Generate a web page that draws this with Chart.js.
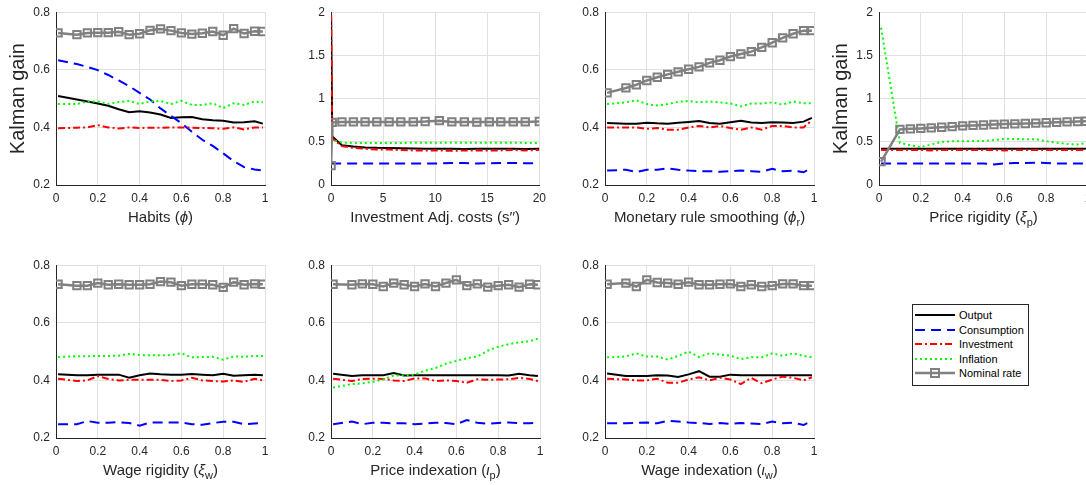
<!DOCTYPE html>
<html>
<head>
<meta charset="utf-8">
<title>Kalman gain sensitivity</title>
<script src="https://cdn.jsdelivr.net/npm/chart.js@4.4.1/dist/chart.umd.min.js"></script>
<style>
  html, body { margin: 0; padding: 0; background: #fff; overflow: hidden; }
  body { width: 1086px; height: 485px; position: relative; }
  canvas.panel { position: absolute; }
  #legend {
    position: absolute; left: 912px; top: 304px; width: 115px; height: 80px;
    border: 1px solid #262626; background: #fff;
    font: 11px "Liberation Sans", Arial, sans-serif; color: #000;
  }
  .lg-row { position: absolute; left: 1px; height: 14px; display: flex; align-items: center; }
  .lg-row svg { display: block; margin-right: 3px; }
</style>
</head>
<body>
<div id="legend"></div>
<script>
// ── Data ──────────────────────────────────────────────────────────────────────

// parameter grid used by the unit-interval panels
const gridX = [0.01, 0.1, 0.15, 0.2, 0.25, 0.3, 0.35, 0.4, 0.45, 0.5,
               0.55, 0.6, 0.65, 0.7, 0.75, 0.8, 0.85, 0.9, 0.95, 0.99];
// grid for investment adjustment costs
const gridS = [0.01, 0.12, 1.05, 2.15, 3.27, 4.4, 5.58, 6.7, 7.9, 9.04,
               10.4, 11.6, 12.8, 14.0, 15.2, 16.3, 17.5, 18.65, 20];

const habitsOutput = [0.509, 0.497, 0.490, 0.483, 0.475, 0.463, 0.453, 0.456, 0.452, 0.445, 0.433, 0.435, 0.436, 0.428, 0.425, 0.423, 0.417, 0.418, 0.421, 0.413];
const habitsCons   = [0.633, 0.620, 0.610, 0.599, 0.582, 0.563, 0.543, 0.520, 0.497, 0.466, 0.440, 0.415, 0.385, 0.357, 0.336, 0.310, 0.283, 0.262, 0.254, 0.250];
const habitsInv    = [0.397, 0.399, 0.400, 0.408, 0.400, 0.396, 0.400, 0.398, 0.399, 0.399, 0.400, 0.400, 0.399, 0.398, 0.397, 0.395, 0.400, 0.393, 0.400, 0.400];
const habitsInfl   = [0.481, 0.481, 0.490, 0.490, 0.481, 0.488, 0.492, 0.481, 0.490, 0.492, 0.481, 0.492, 0.478, 0.478, 0.484, 0.467, 0.484, 0.478, 0.490, 0.487];
const habitsRate   = [0.728, 0.722, 0.728, 0.729, 0.729, 0.732, 0.722, 0.725, 0.737, 0.742, 0.736, 0.728, 0.724, 0.727, 0.733, 0.720, 0.743, 0.726, 0.734, 0.733];

const adjOutput = [1.97, 0.56, 0.46, 0.445, 0.435, 0.43, 0.428, 0.425, 0.422, 0.42, 0.42, 0.42, 0.418, 0.42, 0.42, 0.42, 0.42, 0.418, 0.42];
const adjCons   = [0.25, 0.25, 0.25, 0.25, 0.25, 0.25, 0.25, 0.25, 0.25, 0.25, 0.25, 0.255, 0.255, 0.248, 0.252, 0.255, 0.255, 0.252, 0.25];
const adjInv    = [1.97, 0.54, 0.45, 0.43, 0.42, 0.41, 0.41, 0.405, 0.40, 0.40, 0.40, 0.395, 0.40, 0.40, 0.40, 0.40, 0.405, 0.40, 0.405];
const adjInfl   = [0.50, 0.52, 0.49, 0.487, 0.487, 0.487, 0.487, 0.487, 0.49, 0.49, 0.49, 0.49, 0.49, 0.49, 0.49, 0.49, 0.49, 0.487, 0.487];
const adjRate   = [0.225, 0.725, 0.73, 0.73, 0.73, 0.73, 0.73, 0.73, 0.73, 0.735, 0.745, 0.73, 0.73, 0.728, 0.73, 0.73, 0.73, 0.73, 0.735];

const monOutput = [0.415, 0.413, 0.413, 0.416, 0.414, 0.413, 0.416, 0.419, 0.422, 0.415, 0.413, 0.418, 0.423, 0.417, 0.415, 0.418, 0.417, 0.415, 0.420, 0.433];
const monCons   = [0.250, 0.253, 0.245, 0.253, 0.253, 0.258, 0.253, 0.250, 0.248, 0.248, 0.246, 0.248, 0.250, 0.248, 0.246, 0.256, 0.248, 0.250, 0.244, 0.260];
const monInv    = [0.400, 0.400, 0.400, 0.395, 0.398, 0.392, 0.392, 0.400, 0.405, 0.400, 0.405, 0.398, 0.392, 0.400, 0.392, 0.405, 0.405, 0.400, 0.400, 0.425];
const monInfl   = [0.481, 0.487, 0.494, 0.481, 0.476, 0.481, 0.489, 0.492, 0.487, 0.490, 0.487, 0.483, 0.473, 0.483, 0.483, 0.487, 0.479, 0.490, 0.484, 0.484];
const monRate   = [0.520, 0.537, 0.548, 0.563, 0.574, 0.584, 0.593, 0.602, 0.610, 0.624, 0.633, 0.646, 0.655, 0.663, 0.678, 0.694, 0.711, 0.725, 0.736, 0.736];

const prigOutput = [0.42, 0.42, 0.42, 0.42, 0.42, 0.42, 0.42, 0.42, 0.42, 0.42, 0.42, 0.42, 0.42, 0.42, 0.42, 0.42, 0.42, 0.42, 0.42, 0.42];
const prigCons   = [0.25, 0.25, 0.25, 0.25, 0.25, 0.25, 0.25, 0.25, 0.25, 0.25, 0.238, 0.25, 0.255, 0.255, 0.258, 0.255, 0.25, 0.248, 0.25, 0.25];
const prigInv    = [0.405, 0.405, 0.405, 0.405, 0.40, 0.405, 0.405, 0.405, 0.405, 0.405, 0.405, 0.40, 0.405, 0.405, 0.405, 0.405, 0.405, 0.405, 0.405, 0.405];
const prigInfl   = [1.82, 0.487, 0.46, 0.438, 0.47, 0.50, 0.505, 0.506, 0.508, 0.51, 0.52, 0.535, 0.533, 0.53, 0.53, 0.506, 0.49, 0.475, 0.47, 0.485];
const prigRate   = [0.27, 0.644, 0.65, 0.655, 0.662, 0.668, 0.675, 0.685, 0.69, 0.695, 0.70, 0.705, 0.708, 0.712, 0.716, 0.72, 0.725, 0.73, 0.735, 0.738];

const wrigOutput = [0.421, 0.418, 0.418, 0.420, 0.420, 0.420, 0.409, 0.418, 0.424, 0.421, 0.420, 0.420, 0.422, 0.420, 0.418, 0.423, 0.416, 0.418, 0.420, 0.418];
const wrigCons   = [0.248, 0.248, 0.259, 0.253, 0.253, 0.255, 0.252, 0.243, 0.254, 0.254, 0.254, 0.254, 0.248, 0.246, 0.252, 0.256, 0.256, 0.248, 0.250, 0.252];
const wrigInv    = [0.406, 0.398, 0.400, 0.415, 0.405, 0.400, 0.402, 0.402, 0.402, 0.402, 0.398, 0.400, 0.409, 0.400, 0.398, 0.396, 0.400, 0.395, 0.406, 0.400];
const wrigInfl   = [0.481, 0.484, 0.484, 0.485, 0.485, 0.486, 0.492, 0.488, 0.487, 0.487, 0.488, 0.494, 0.480, 0.481, 0.482, 0.472, 0.483, 0.482, 0.485, 0.485];
const wrigRate   = [0.734, 0.729, 0.729, 0.738, 0.732, 0.734, 0.732, 0.732, 0.734, 0.743, 0.741, 0.729, 0.734, 0.734, 0.732, 0.723, 0.741, 0.732, 0.735, 0.734];

const pidxOutput = [0.423, 0.415, 0.418, 0.418, 0.418, 0.426, 0.417, 0.418, 0.418, 0.418, 0.418, 0.418, 0.418, 0.418, 0.418, 0.418, 0.417, 0.423, 0.418, 0.415];
const pidxCons   = [0.248, 0.257, 0.248, 0.253, 0.253, 0.251, 0.251, 0.248, 0.250, 0.253, 0.252, 0.248, 0.262, 0.253, 0.249, 0.252, 0.254, 0.252, 0.251, 0.253];
const pidxInv    = [0.406, 0.398, 0.405, 0.406, 0.405, 0.400, 0.398, 0.407, 0.407, 0.398, 0.400, 0.398, 0.392, 0.404, 0.402, 0.403, 0.404, 0.409, 0.405, 0.398];
const pidxInfl   = [0.375, 0.387, 0.390, 0.395, 0.403, 0.417, 0.418, 0.420, 0.434, 0.443, 0.458, 0.468, 0.477, 0.483, 0.503, 0.517, 0.526, 0.532, 0.536, 0.545];
const pidxRate   = [0.734, 0.732, 0.735, 0.734, 0.726, 0.738, 0.732, 0.726, 0.735, 0.726, 0.738, 0.749, 0.729, 0.735, 0.724, 0.729, 0.732, 0.724, 0.734, 0.732];

const widxOutput = [0.424, 0.415, 0.415, 0.415, 0.418, 0.417, 0.412, 0.421, 0.432, 0.413, 0.413, 0.420, 0.418, 0.418, 0.418, 0.418, 0.418, 0.418, 0.418, 0.418];
const widxCons   = [0.251, 0.251, 0.252, 0.254, 0.251, 0.260, 0.257, 0.254, 0.252, 0.249, 0.252, 0.249, 0.252, 0.250, 0.248, 0.257, 0.251, 0.253, 0.245, 0.259];
const widxInv    = [0.406, 0.403, 0.400, 0.400, 0.406, 0.392, 0.392, 0.403, 0.411, 0.400, 0.409, 0.403, 0.387, 0.409, 0.390, 0.403, 0.413, 0.409, 0.400, 0.411];
const widxInfl   = [0.480, 0.483, 0.494, 0.483, 0.483, 0.472, 0.485, 0.500, 0.481, 0.494, 0.490, 0.486, 0.474, 0.481, 0.480, 0.494, 0.485, 0.494, 0.485, 0.480];
const widxRate   = [0.734, 0.738, 0.726, 0.749, 0.740, 0.738, 0.734, 0.741, 0.732, 0.732, 0.734, 0.735, 0.726, 0.732, 0.726, 0.729, 0.735, 0.735, 0.729, 0.729];

// ── Series styles (MATLAB-ish) ────────────────────────────────────────────────

const SERIES = [
  { label: 'Output',       color: '#000000', dash: [],           width: 2 },
  { label: 'Consumption',  color: '#0000ff', dash: [10, 6],      width: 2 },
  { label: 'Investment',   color: '#ff0000', dash: [7, 3, 2, 3], width: 2 },
  { label: 'Inflation',    color: '#00ff00', dash: [2, 3],       width: 2 },
  { label: 'Nominal rate', color: '#808080', dash: [],           width: 2.5, marker: true },
];

const FONT = '"Liberation Sans", Arial, Helvetica, sans-serif';
const INK = '#262626';
const GRID = '#e0e0e0';

// MATLAB-style tick text: 2 not 2.0, 0.5 stays 0.5
const tickText = (v) => String(Number(v.toFixed(3)));

// ── Panels ────────────────────────────────────────────────────────────────────

const PLOT_W = 209, PLOT_H = 178;
const PAD_L = 56, PAD_T = 8, PAD_R = 12, X_BAND = 48;

const PANELS = [
  { left: 56,  top: 7,   x: gridX, xMax: 1,  xStep: 0.2, yMin: 0.2, yMax: 0.8, yStep: 0.2, ylabel: true,
    series: [habitsOutput, habitsCons, habitsInv, habitsInfl, habitsRate],
    title: [{ t: 'Habits (' }, { t: 'ϕ', it: true }, { t: ')' }] },
  { left: 331, top: 7,   x: gridS, xMax: 20, xStep: 5,   yMin: 0,   yMax: 2,   yStep: 0.5,
    series: [adjOutput, adjCons, adjInv, adjInfl, adjRate],
    title: [{ t: 'Investment Adj. costs (s′′)' }] },
  { left: 605, top: 7,   x: gridX, xMax: 1,  xStep: 0.2, yMin: 0.2, yMax: 0.8, yStep: 0.2,
    series: [monOutput, monCons, monInv, monInfl, monRate],
    title: [{ t: 'Monetary rule smoothing (' }, { t: 'ϕ', it: true }, { t: 'r', sub: true }, { t: ')' }] },
  { left: 879, top: 7,   x: gridX, xMax: 1,  xStep: 0.2, yMin: 0,   yMax: 2,   yStep: 0.5, ylabel: true,
    series: [prigOutput, prigCons, prigInv, prigInfl, prigRate],
    title: [{ t: 'Price rigidity (' }, { t: 'ξ', it: true }, { t: 'p', sub: true }, { t: ')' }] },
  { left: 56,  top: 260, x: gridX, xMax: 1,  xStep: 0.2, yMin: 0.2, yMax: 0.8, yStep: 0.2,
    series: [wrigOutput, wrigCons, wrigInv, wrigInfl, wrigRate],
    title: [{ t: 'Wage rigidity (' }, { t: 'ξ', it: true }, { t: 'w', sub: true }, { t: ')' }] },
  { left: 331, top: 260, x: gridX, xMax: 1,  xStep: 0.2, yMin: 0.2, yMax: 0.8, yStep: 0.2,
    series: [pidxOutput, pidxCons, pidxInv, pidxInfl, pidxRate],
    title: [{ t: 'Price indexation (' }, { t: 'ι', it: true }, { t: 'p', sub: true }, { t: ')' }] },
  { left: 605, top: 260, x: gridX, xMax: 1,  xStep: 0.2, yMin: 0.2, yMax: 0.8, yStep: 0.2,
    series: [widxOutput, widxCons, widxInv, widxInfl, widxRate],
    title: [{ t: 'Wage indexation (' }, { t: 'ι', it: true }, { t: 'w', sub: true }, { t: ')' }] },
];

// x-axis label with italic greek + subscripts, centred under the plot area
const xTitlePlugin = {
  id: 'xTitle',
  afterDraw(chart, args, opts) {
    const parts = opts.parts;
    if (!parts) return;
    const { ctx, chartArea } = chart;
    const fontOf = (p) => p.sub ? `11px ${FONT}` : (p.it ? `italic 15px ${FONT}` : `15px ${FONT}`);
    ctx.save();
    ctx.fillStyle = INK;
    ctx.textBaseline = 'middle';
    ctx.textAlign = 'left';
    let total = 0;
    const widths = parts.map((p) => { ctx.font = fontOf(p); const w = ctx.measureText(p.t).width; total += w; return w; });
    let x = (chartArea.left + chartArea.right) / 2 - total / 2;
    const y = chartArea.bottom + 33;
    parts.forEach((p, i) => {
      ctx.font = fontOf(p);
      ctx.fillText(p.t, x, p.sub ? y + 5 : y);
      x += widths[i];
    });
    ctx.restore();
  },
};

function buildPanel(p) {
  const canvas = document.createElement('canvas');
  canvas.className = 'panel';
  canvas.width = PAD_L + PLOT_W + PAD_R;
  canvas.height = PAD_T + PLOT_H + X_BAND;
  canvas.style.left = (p.left - PAD_L) + 'px';
  canvas.style.top = (p.top - PAD_T) + 'px';
  document.body.appendChild(canvas);

  const datasets = SERIES.map((s, i) => ({
    label: s.label,
    data: p.x.map((xv, k) => ({ x: xv, y: p.series[i][k] })),
    borderColor: s.color,
    borderWidth: s.width,
    borderDash: s.dash,
    pointStyle: 'rect',
    pointRadius: s.marker ? 5.2 : 0,
    pointBorderWidth: 2,
    pointBorderColor: s.color,
    pointBackgroundColor: 'rgba(0,0,0,0)',
    tension: 0,
    order: SERIES.length - i, // later series drawn on top, like MATLAB
  }));

  const tickFont = { size: 12, family: FONT };

  new Chart(canvas.getContext('2d'), {
    type: 'line',
    data: { datasets },
    options: {
      responsive: false,
      animation: false,
      devicePixelRatio: 1,
      layout: { padding: { left: 0, top: PAD_T, right: PAD_R, bottom: 0 } },
      plugins: {
        legend: { display: false },
        tooltip: { enabled: false },
        xTitle: { parts: p.title },
      },
      scales: {
        x: {
          type: 'linear',
          min: 0,
          max: p.xMax,
          ticks: { stepSize: p.xStep, autoSkip: false, maxRotation: 0, padding: 6, color: INK, font: tickFont, callback: tickText },
          grid: { color: GRID, drawTicks: false },
          border: { color: INK },
          afterFit: (s) => { s.height = X_BAND; },
        },
        y: {
          min: p.yMin,
          max: p.yMax,
          ticks: { stepSize: p.yStep, padding: 6, color: INK, font: tickFont, callback: tickText },
          grid: { color: GRID, drawTicks: false },
          border: { color: INK },
          title: {
            display: !!p.ylabel,
            text: 'Kalman gain',
            color: INK,
            font: { size: 20, family: FONT },
            padding: { top: 6, bottom: 0 },
          },
          afterFit: (s) => { s.width = PAD_L; },
        },
      },
    },
    plugins: [xTitlePlugin],
  });
}

PANELS.forEach(buildPanel);

// ── Legend ────────────────────────────────────────────────────────────────────

const legend = document.getElementById('legend');
SERIES.forEach((s, i) => {
  const row = document.createElement('div');
  row.className = 'lg-row';
  row.style.top = (3 + i * 14.5) + 'px';
  const marker = s.marker
    ? `<rect x="17" y="1" width="8" height="8" fill="none" stroke="${s.color}" stroke-width="2"/>`
    : '';
  row.innerHTML =
    `<svg width="42" height="10"><line x1="1" y1="5" x2="41" y2="5" stroke="${s.color}" stroke-width="${s.width}"` +
    ` stroke-dasharray="${s.dash.length ? s.dash.join(' ') : 'none'}"/>${marker}</svg><span>${s.label}</span>`;
  legend.appendChild(row);
});
</script>
</body>
</html>
